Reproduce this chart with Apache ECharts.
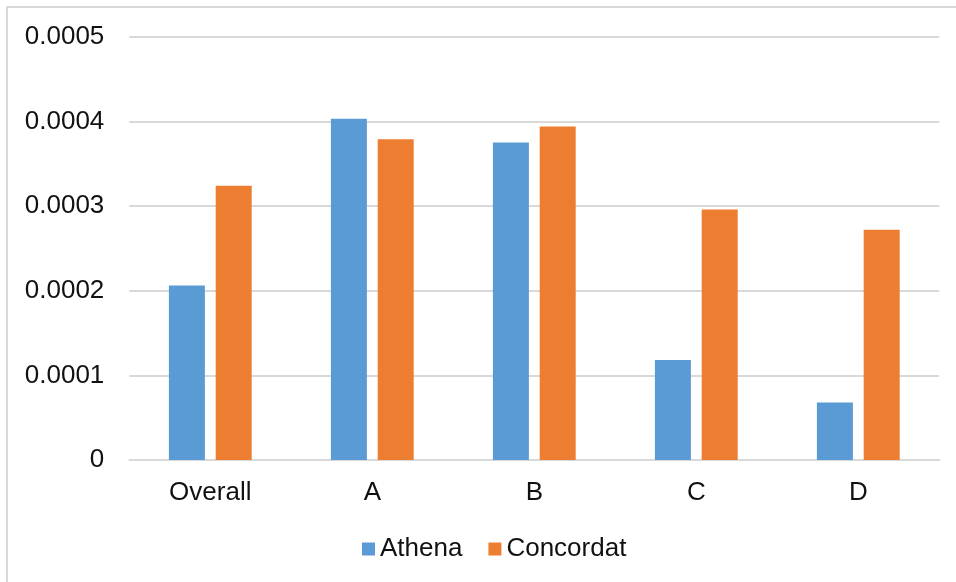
<!DOCTYPE html>
<html>
<head>
<meta charset="utf-8">
<script src="https://cdn.jsdelivr.net/npm/echarts@6/dist/echarts.min.js"></script>
<style>
  html, body { margin: 0; padding: 0; background: #ffffff; }
  #chart { width: 956px; height: 582px; }
</style>
</head>
<body>
<div id="chart"></div>
<script>
// Categories and series values
const categories = ['Overall', 'A', 'B', 'C', 'D'];
const athena = [0.000206, 0.000403, 0.000375, 0.000118, 0.000068];
const concordat = [0.000324, 0.000379, 0.000394, 0.000296, 0.000272];
const yTickLabels = ['0', '0.0001', '0.0002', '0.0003', '0.0004', '0.0005'];

const FONT = '"Liberation Sans", Arial, sans-serif';
const TEXT = '#111111';
const GRID = '#d9d9d9';

const chart = echarts.init(document.getElementById('chart'), null, { renderer: 'canvas' });

chart.setOption({
  animation: false,
  backgroundColor: '#ffffff',
  graphic: [{
    type: 'rect',
    shape: { x: 7, y: 7, width: 1000, height: 1000 },
    style: { fill: 'none', stroke: GRID, lineWidth: 2 },
    silent: true
  }],
  grid: { left: 129.3, right: 16.7, top: 36.7, bottom: 122, containLabel: false },
  legend: {
    data: ['Athena', 'Concordat'],
    left: 357,
    top: 531,
    icon: 'rect',
    itemWidth: 13,
    itemHeight: 13,
    itemGap: 26,
    textStyle: { fontFamily: FONT, fontSize: 26, color: TEXT }
  },
  xAxis: {
    type: 'category',
    data: categories,
    axisLine: { show: true, lineStyle: { color: GRID, width: 2 } },
    axisTick: { show: false },
    axisLabel: { margin: 20, fontFamily: FONT, fontSize: 26, color: TEXT }
  },
  yAxis: {
    type: 'value',
    min: 0,
    max: 0.0005,
    interval: 0.0001,
    axisLine: { show: false },
    axisTick: { show: false },
    splitLine: { lineStyle: { color: GRID, width: 2 } },
    axisLabel: {
      margin: 25,
      fontFamily: FONT,
      fontSize: 26,
      color: TEXT,
      formatter: (v) => yTickLabels[Math.round(v / 0.0001)]
    }
  },
  series: [
    {
      name: 'Athena',
      type: 'bar',
      data: athena,
      barWidth: 36,
      barGap: '30%',
      itemStyle: { color: '#5B9BD5' }
    },
    {
      name: 'Concordat',
      type: 'bar',
      data: concordat,
      barWidth: 36,
      itemStyle: { color: '#ED7D31' }
    }
  ]
});
</script>
</body>
</html>
